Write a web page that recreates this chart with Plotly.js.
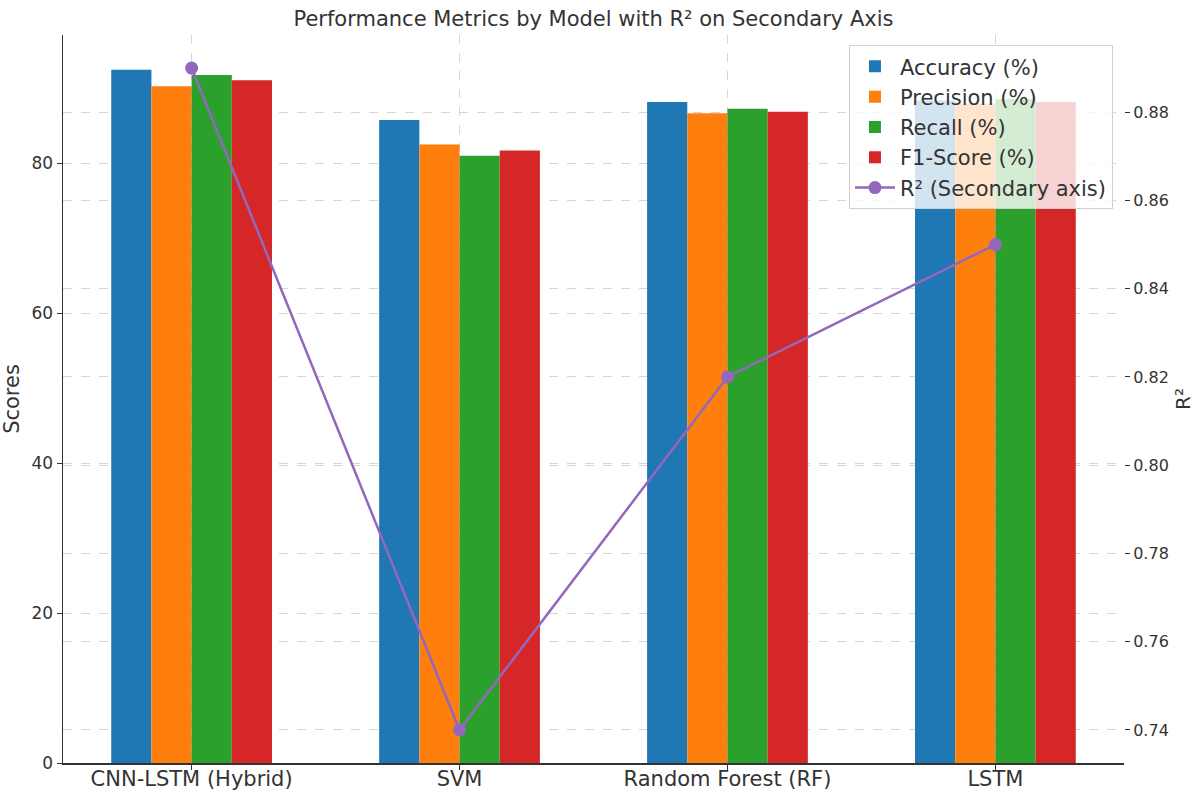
<!DOCTYPE html>
<html>
<head>
<meta charset="utf-8">
<script src="https://cdn.plot.ly/plotly-3.0.1.min.js"></script>
<style>html,body{margin:0;padding:0;background:#fff;}#chart{width:1197px;height:792px;}</style>
</head>
<body>
<div id="chart"></div>
<script>
const models = ["CNN-LSTM (Hybrid)", "SVM", "Random Forest (RF)", "LSTM"];
const accuracy = [92.5, 85.8, 88.2, 88.4];
const precision = [90.3, 82.5, 86.7, 88.0];
const recall = [91.8, 81.0, 87.3, 88.6];
const f1 = [91.1, 81.7, 86.9, 88.2];
const r2 = [0.89, 0.74, 0.82, 0.85];

const seriesNames = ["Accuracy (%)", "Precision (%)", "Recall (%)", "F1-Score (%)"];
const seriesVals = [accuracy, precision, recall, f1];
const colors = ["#1f77b4", "#ff7f0e", "#2ca02c", "#d62728"];

const traces = seriesVals.map((v, i) => ({
  type: "bar",
  x: models,
  y: v,
  name: seriesNames[i],
  legendgroup: "g" + i,
  marker: {color: colors[i], line: {width: 0}},
  xaxis: "x", yaxis: "y"
}));
traces.push({
  type: "scatter",
  mode: "lines+markers",
  x: models,
  y: r2,
  name: "R² (Secondary axis)",
  legendgroup: "g4",
  line: {color: "#9467bd", width: 2.5},
  marker: {color: "#9467bd", size: 13},
  xaxis: "x", yaxis: "y2"
});

const gridC = "#d6d6d6";
const layout = {
  width: 1197, height: 792,
  paper_bgcolor: "#fff", plot_bgcolor: "#fff",
  margin: {l: 63, r: 73, t: 35, b: 29, pad: 0},
  font: {family: "DejaVu Sans", color: "#333", size: 16},
  title: {text: "Performance Metrics by Model with R² on Secondary Axis", x: 0.5, xref: "paper", xanchor: "center",
          y: 1 - 19/792, yref: "container", yanchor: "middle", font: {size: 21, color: "#333"}},
  barmode: "group", bargap: 0.4, bargroupgap: 0,
  showlegend: true,
  legend: {x: 0.9896, xanchor: "right", y: 0.986, yanchor: "top", bgcolor: "rgba(255,255,255,0.8)",
           bordercolor: "#d0d0d0", borderwidth: 1, font: {size: 21, color: "#333"}, tracegroupgap: 4,
           itemwidth: 40, traceorder: "normal"},
  xaxis: {range: [-0.48, 3.48], showline: true, linecolor: "#333", linewidth: 1.5, ticks: "outside", ticklen: 5,
          tickcolor: "#333", showgrid: true, gridcolor: gridC, griddash: "dash", gridwidth: 1,
          tickfont: {size: 21, color: "#333"}, zeroline: false, mirror: false, ticklabelstandoff: -9},
  yaxis: {range: [0, 97.125], dtick: 20, showline: true, linecolor: "#333", linewidth: 1.5, ticks: "outside", ticklen: 5,
          tickcolor: "#333", showgrid: true, gridcolor: gridC, griddash: "dash", gridwidth: 1, zeroline: false,
          tickfont: {size: 17, color: "#333"}, title: {text: "Scores", font: {size: 21, color: "#333"}, standoff: 8}},
  yaxis2: {overlaying: "y", side: "right", range: [0.7325, 0.8975], dtick: 0.02, tickformat: ".2f", showline: false,
           ticks: "outside", ticklen: 5, tickcolor: "#333", showgrid: true, gridcolor: gridC, griddash: "dash",
           gridwidth: 1, zeroline: false, tickfont: {size: 16, color: "#333"},
           title: {text: "R²", font: {size: 20, color: "#333"}, standoff: 8}}
};

Plotly.newPlot("chart", traces, layout, {displayModeBar: false, staticPlot: true});
</script>
</body>
</html>
